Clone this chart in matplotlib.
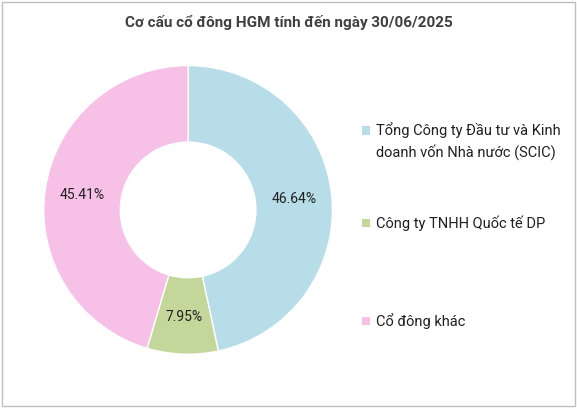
import matplotlib.pyplot as plt
from matplotlib.patches import Rectangle

labels = ["Tổng Công ty Đầu tư và Kinh\ndoanh vốn Nhà nước (SCIC)",
          "Công ty TNHH Quốc tế DP",
          "Cổ đông khác"]
values = [46.64, 7.95, 45.41]
colors = ["#B7DDE8", "#C4D79B", "#F7C0E7"]

plt.rcParams['font.family'] = ['Roboto', 'DejaVu Sans']

fig = plt.figure(figsize=(5.77, 4.08), dpi=100)
fig.patches.append(Rectangle((0.004, 0.004), 0.992, 0.992, transform=fig.transFigure,
                             fill=False, edgecolor="#BFBFBF", linewidth=1))

fig.text(0.5, 0.945, "Cơ cấu cổ đông HGM tính đến ngày 30/06/2025",
         ha="center", va="center", fontsize=11, fontweight="bold", color="#404040")

ax = fig.add_axes([0.0745, 0.130, 0.503, 0.711])
ax.pie(values, colors=colors, startangle=90, counterclock=False,
       wedgeprops=dict(width=0.53, edgecolor="white", linewidth=1),
       autopct=lambda p: f"{p:.2f}%", pctdistance=0.74,
       textprops=dict(fontsize=10, color="#202020"))
ax.set_xlim(-1.005, 1.005)
ax.set_ylim(-1.005, 1.005)
ax.set_aspect("equal")

ys = [0.682, 0.456, 0.216]
for lab, col, y in zip(labels, colors, ys):
    fig.patches.append(Rectangle((0.628, y - 0.012), 0.014, 0.02,
                                 transform=fig.transFigure, facecolor=col, edgecolor="none"))
    if "\n" in lab:
        fig.text(0.652, y + 0.02, lab, ha="left", va="top", fontsize=10.5,
                 color="#202020", linespacing=1.5)
    else:
        fig.text(0.652, y - 0.002, lab, ha="left", va="center", fontsize=10.5,
                 color="#202020")

fig.savefig("out.png", dpi=100)
